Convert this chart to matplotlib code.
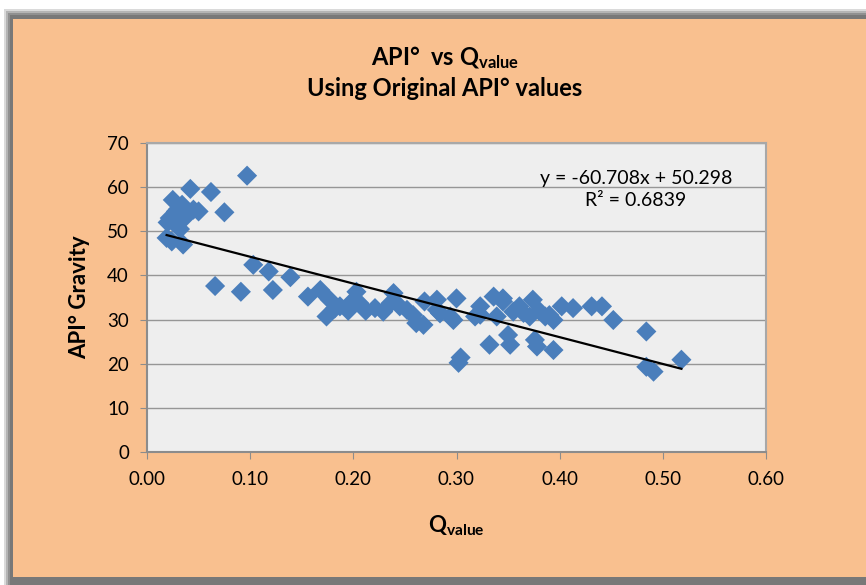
import numpy as np
import matplotlib
matplotlib.use("Agg")
import matplotlib.pyplot as plt
from matplotlib.patches import Rectangle

# data
q_value = [
    0.019, 0.024, 0.035, 0.022, 0.025, 0.029, 0.034, 0.038, 0.045, 0.042,
    0.050, 0.062, 0.075, 0.097, 0.028, 0.020, 0.032, 0.030,
    0.066, 0.091, 0.103, 0.118, 0.122, 0.139, 0.156, 0.168, 0.174, 0.177,
    0.187, 0.197, 0.203, 0.206, 0.182, 0.195, 0.212, 0.221, 0.229, 0.236,
    0.239, 0.245, 0.252, 0.258, 0.261, 0.268, 0.269, 0.281, 0.284, 0.281,
    0.294, 0.297, 0.300, 0.302, 0.304, 0.318, 0.323, 0.323, 0.332, 0.336,
    0.339, 0.345, 0.345, 0.350, 0.352, 0.355, 0.361, 0.365, 0.371, 0.374,
    0.376, 0.378, 0.380, 0.386, 0.390, 0.394, 0.394, 0.402, 0.413, 0.431,
    0.441, 0.452, 0.484, 0.484, 0.491, 0.518,
]
api_gravity = [
    48.5, 47.7, 47.0, 53.0, 57.1, 51.9, 56.0, 53.4, 54.9, 59.6,
    54.5, 58.9, 54.3, 62.6, 54.5, 52.0, 50.5, 55.0,
    37.6, 36.3, 42.4, 40.9, 36.7, 39.6, 35.2, 36.7, 30.7, 34.5,
    33.0, 33.7, 36.3, 33.7, 32.5, 32.0, 32.0, 32.6, 31.8, 33.7,
    36.0, 33.0, 32.2, 31.0, 29.2, 28.8, 34.1, 34.5, 31.4, 32.2,
    30.7, 29.9, 34.8, 20.2, 21.4, 30.7, 33.0, 31.1, 24.3, 35.2,
    30.7, 34.8, 34.1, 26.5, 24.3, 31.8, 33.0, 31.5, 30.7, 34.5,
    25.4, 23.9, 32.0, 30.7, 31.0, 23.1, 29.9, 33.0, 32.6, 33.0,
    33.0, 29.9, 27.3, 19.3, 18.2, 20.9,
]

# trendline reported on the chart
slope = -60.708
intercept = 50.298
r_squared = 0.6839

x_ticks = [0.0, 0.1, 0.2, 0.3, 0.4, 0.5, 0.6]
y_ticks = [0, 10, 20, 30, 40, 50, 60, 70]

ORANGE = "#F9C08F"
BLUE = "#4A7EBB"
FONT = ["Lato", "DejaVu Sans"]

plt.rcParams["font.family"] = FONT
plt.rcParams["mathtext.fontset"] = "custom"
plt.rcParams["mathtext.rm"] = "Lato"
plt.rcParams["mathtext.bf"] = "Lato:bold"

W, H = 866, 585
fig = plt.figure(figsize=(W / 100, H / 100), dpi=100, facecolor="white")


# frame with soft shadow, given in figure pixels measured from the top-left
def px_rect(x0, y_top, x1, y_bot, **kw):
    return Rectangle((x0 / W, 1 - y_bot / H), (x1 - x0) / W, (y_bot - y_top) / H,
                     transform=fig.transFigure, zorder=-10, **kw)


for i, a in enumerate([0.25, 0.35, 0.5, 0.7]):
    fig.patches.append(px_rect(4 + i * 2, 9 + i * 2, W, H, color="#6e6e6e", alpha=a, lw=0))
fig.patches.append(px_rect(13, 19, W, 577, color=ORANGE, lw=0))

ax = fig.add_axes([147 / W, 1 - 452 / H, (766 - 147) / W, (452 - 143) / H])
ax.set_facecolor("#EEEEEE")

ax.set_xlim(0, 0.6)
ax.set_ylim(0, 70)
ax.set_xticks(x_ticks)
ax.set_yticks(y_ticks)
ax.set_xticklabels([f"{t:.2f}" for t in x_ticks])
ax.tick_params(axis="both", labelsize=13.5, colors="#000000", length=5, color="#8c8c8c")
ax.tick_params(axis="x", pad=9)
ax.tick_params(axis="y", pad=8)
ax.yaxis.grid(True, color="#969696", lw=1)
ax.set_axisbelow(True)
for side in ["top", "right"]:
    ax.spines[side].set_color("#a8a8a8")
for side in ["left", "bottom"]:
    ax.spines[side].set_color("#8c8c8c")
for sp in ax.spines.values():
    sp.set_linewidth(1.5)

ax.scatter(q_value, api_gravity, marker="D", s=105, color=BLUE, edgecolors="none", zorder=3)

xs = np.array([min(q_value), max(q_value)])
ax.plot(xs, slope * xs + intercept, color="black", lw=1.6, zorder=4)

ax.text(0.474, 61.9, f"y = {slope:.3f}x + {intercept:.3f}", ha="center", va="center", fontsize=14)
ax.text(0.474, 56.9, f"R² = {r_squared:.4f}", ha="center", va="center", fontsize=14)

ax.set_xlabel(r"$\mathbf{Q_{value}}$", fontsize=16, labelpad=18)
ax.set_ylabel("API° Gravity", fontsize=16, fontweight="bold", labelpad=12)

fig.text(445 / W, 1 - 58 / H, r"API°  vs $\mathbf{Q_{value}}$", ha="center", va="center",
         fontsize=17, fontweight="bold")
fig.text(445 / W, 1 - 88 / H, "Using Original API° values", ha="center", va="center",
         fontsize=17, fontweight="bold")

fig.savefig("out.png", dpi=100, facecolor=fig.get_facecolor())
